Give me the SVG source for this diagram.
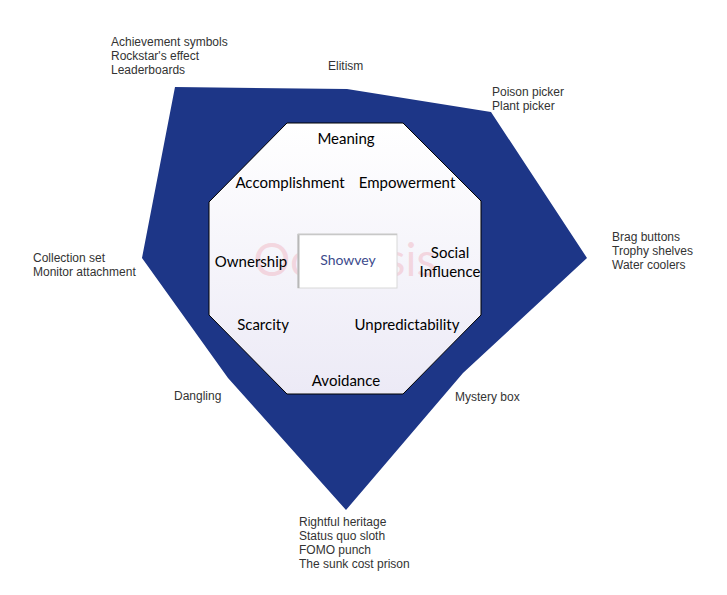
<svg xmlns="http://www.w3.org/2000/svg" width="727" height="595" viewBox="0 0 727 595">
<defs>
<linearGradient id="og" x1="0" y1="0" x2="0" y2="1">
<stop offset="0" stop-color="#ffffff"/>
<stop offset="1" stop-color="#eceaf6"/>
</linearGradient>
<style>
.dim{font-family:"Lato","Open Sans",sans-serif;font-size:15px;fill:#000;text-anchor:middle}
.ex{font-family:"Liberation Sans",Arial,sans-serif;font-size:12px;fill:#333}
</style>
</defs>
<rect width="727" height="595" fill="#fff"/>
<g id="outer">
<polygon points="175,87 347,89 491,112 587,258 463,373 346,510 228,378 142,258" fill="#1d3687"/>
</g>
<g id="octagon">
<polygon points="287,123 403,123 481,201 481,315 403,394 287,394 209,315 209,202" fill="url(#og)" stroke="#000" stroke-width="1"/>
<text x="345" y="276" font-family="Lato,'Open Sans',sans-serif" font-size="46" fill="#f0b8c4" fill-opacity="0.5" text-anchor="middle">Octalysis</text>
</g>
<g id="center">
<rect x="298" y="234" width="99" height="54" fill="#fff" stroke="#d8d8d8" stroke-width="1"/>
<line x1="298.5" y1="234" x2="298.5" y2="288" stroke="#b8b8b8" stroke-width="2"/>
<line x1="298" y1="234.5" x2="397" y2="234.5" stroke="#c8c8c8" stroke-width="1.5"/>
<text x="348" y="265" font-family="Lato,'Open Sans',sans-serif" font-size="14" fill="#3c4b8c" text-anchor="middle">Showvey</text>
</g>
<g id="drives">
<text class="dim" x="346" y="144">Meaning</text>
<text class="dim" x="290" y="188">Accomplishment</text>
<text class="dim" x="407" y="188">Empowerment</text>
<text class="dim" x="251" y="267">Ownership</text>
<text class="dim" x="450" y="258">Social</text>
<text class="dim" x="450" y="277">Influence</text>
<text class="dim" x="263" y="330">Scarcity</text>
<text class="dim" x="407" y="330">Unpredictability</text>
<text class="dim" x="346" y="386">Avoidance</text>
</g>
<g id="techniques">
<text class="ex" x="111" y="46">Achievement symbols</text>
<text class="ex" x="111" y="60">Rockstar's effect</text>
<text class="ex" x="111" y="74">Leaderboards</text>
<text class="ex" x="328" y="70">Elitism</text>
<text class="ex" x="492" y="96">Poison picker</text>
<text class="ex" x="492" y="110">Plant picker</text>
<text class="ex" x="612" y="241">Brag buttons</text>
<text class="ex" x="612" y="255">Trophy shelves</text>
<text class="ex" x="612" y="269">Water coolers</text>
<text class="ex" x="33" y="262">Collection set</text>
<text class="ex" x="33" y="276">Monitor attachment</text>
<text class="ex" x="174" y="400">Dangling</text>
<text class="ex" x="455" y="401">Mystery box</text>
<text class="ex" x="299" y="526">Rightful heritage</text>
<text class="ex" x="299" y="540">Status quo sloth</text>
<text class="ex" x="299" y="554">FOMO punch</text>
<text class="ex" x="299" y="568">The sunk cost prison</text>
</g>
<g id="connectors"/>
</svg>
